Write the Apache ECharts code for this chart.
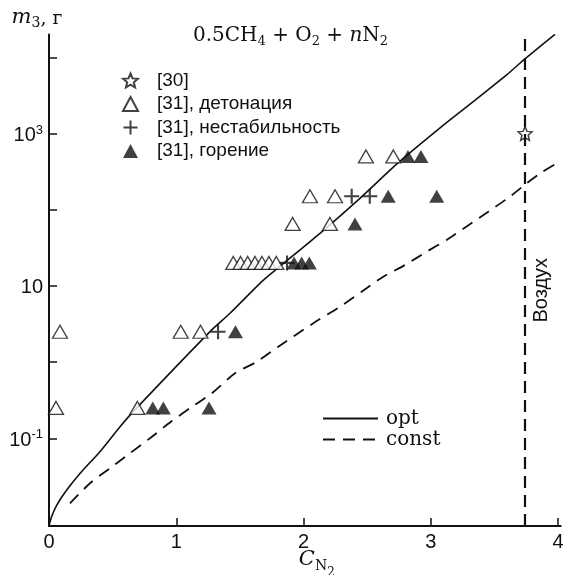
<!DOCTYPE html>
<html><head><meta charset="utf-8">
<script src="https://cdn.jsdelivr.net/npm/echarts@6/dist/echarts.min.js"></script>
<style>html,body{margin:0;padding:0;background:#fff}#c{width:563px;height:575px}</style>
</head><body><div id="c"></div>
<script>
// ---- data ----
const xTickValues = [0, 1, 2, 3, 4];
const yTickValues = [0.1, 1, 10, 100, 1000, 10000];
const yLabelValues = [0.1, 10, 1000];
const airX = 3.74;                       // "Воздух" (air)
const ref30 = [[3.74, 1000]];
const detonation = [[0.055,0.25],[0.694,0.25],[0.086,2.5],[1.035,2.5],[1.19,2.5],
  [1.448,20],[1.505,20],[1.561,20],[1.618,20],[1.673,20],[1.728,20],[1.786,20],
  [1.914,65],[2.207,65],[2.05,150],[2.247,150],[2.49,500],[2.705,500]];
const instability = [[1.328,2.5],[1.87,20],[2.378,150],[2.52,150]];
const combustion = [[0.815,0.25],[0.898,0.25],[1.257,0.25],[1.465,2.5],
  [1.925,20],[1.985,20],[2.045,20],[2.404,65],[2.665,150],[3.046,150],[2.82,500],[2.922,500]];
const optX = [0, 0.02, 0.06, 0.139, 0.25, 0.40, 0.558, 0.662, 1.265, 1.422, 1.657, 1.762, 2.129, 2.443, 2.74, 3.07, 3.333, 3.595, 3.73, 3.975];
const optM = [0.00706, 0.00933, 0.0132, 0.0209, 0.0355, 0.0667, 0.142, 0.224, 2.51, 4.37, 10.8, 15.3, 49.0, 141, 407, 1175, 2612, 5861, 9226, 19953];
const constX = [0.165, 0.322, 0.479, 0.636, 0.793, 0.96, 1.12, 1.278, 1.461, 1.632, 1.801, 1.958, 2.115, 2.286, 2.456, 2.626, 2.797, 2.967, 3.124, 3.281, 3.451, 3.621, 3.74, 3.87, 4.0];
const constM = [0.0140, 0.0257, 0.0404, 0.0635, 0.100, 0.166, 0.257, 0.389, 0.713, 1.01, 1.59, 2.39, 3.56, 5.33, 8.39, 13.2, 18.8, 28.1, 40.1, 60.3, 94.2, 148, 214, 309, 417];
const xMin = 0, xMax = 4.02, yMin = 0.00706, yMax = 19953;

// ---- chart ----
const black = '#111';
const sans = '"Liberation Sans", Arial, sans-serif';
const serif = '"DejaVu Serif", serif';
const starPath = 'path://M10,0L12.645,6.36L19.51,6.91L14.28,11.39L15.88,18.09L10,14.5L4.12,18.09L5.72,11.39L0.49,6.91L7.355,6.36Z';
const plusPath = 'path://M6,0L8,0L8,6L14,6L14,8L8,8L8,14L6,14L6,8L0,8L0,6L6,6Z';
const zip = (xs, ys) => xs.map((x, i) => [x, ys[i]]);

const chart = echarts.init(document.getElementById('c'), null, {renderer: 'canvas'});
chart.setOption({
  animation: false,
  backgroundColor: '#fff',
  title: {
    text: '{a|0.5CH}{s|4}{a| + O}{s|2}{a| + }{i|n}{a|N}{s|2}',
    left: 193, top: 26, padding: 0,
    textStyle: {fontWeight: 'normal', rich: {
      a: {fontFamily: serif, fontSize: 20, lineHeight: 20, fontWeight: 'normal', color: black, verticalAlign: 'top'},
      i: {fontFamily: serif, fontSize: 20, lineHeight: 20, fontWeight: 'normal', color: black, fontStyle: 'italic', verticalAlign: 'top'},
      s: {fontFamily: serif, fontSize: 13, lineHeight: 13, fontWeight: 'normal', color: black, padding: [9, 0, 0, 0], verticalAlign: 'top'}
    }}
  },
  grid: {left: 49, right: 2.3, top: 34.4, bottom: 49, containLabel: false, outerBoundsMode: 'none'},
  legend: [{
    data: ['[30]', '[31], детонация', '[31], нестабильность', '[31], горение'],
    orient: 'vertical', left: 122, top: 71, padding: 0,
    itemWidth: 15, itemHeight: 14, itemGap: 4.5, selectedMode: false,
    textStyle: {fontFamily: sans, fontSize: 19, color: black, lineHeight: 14, padding: [0, 0, 0, 14]}
  }, {
    data: ['opt', 'const'],
    orient: 'vertical', left: 322, top: 408.4, padding: 0,
    itemWidth: 55, itemHeight: 14, itemGap: 1, selectedMode: false,
    itemStyle: {opacity: 0},
    textStyle: {fontFamily: serif, fontSize: 20, color: black, lineHeight: 14, padding: [0, 0, 0, 3]}
  }],
  xAxis: {
    type: 'value', min: xMin, max: xMax,
    name: '{c|C}{n|N}{t|2}', nameLocation: 'middle', nameGap: 23, nameMoveOverlap: false,
    nameTextStyle: {padding: [0, 0, 0, 24], verticalAlign: 'top', rich: {
      c: {fontFamily: serif, fontSize: 21, lineHeight: 21, color: black, fontStyle: 'italic', verticalAlign: 'top'},
      n: {fontFamily: serif, fontSize: 14, lineHeight: 14, color: black, padding: [10, 0, 0, 0], verticalAlign: 'top'},
      t: {fontFamily: serif, fontSize: 12, lineHeight: 12, color: black, padding: [18, 0, 0, 0], verticalAlign: 'top'}
    }},
    axisLine: {show: true, onZero: false, lineStyle: {color: black, width: 2}},
    axisTick: {show: true, inside: true, length: 8, customValues: xTickValues, lineStyle: {color: black, width: 1.5}},
    axisLabel: {customValues: xTickValues, fontFamily: sans, fontSize: 20, color: black, margin: 6},
    splitLine: {show: false}
  },
  yAxis: {
    type: 'log', logBase: 10, min: yMin, max: yMax,
    name: '{m|m}{s|3}{a|, г}', nameLocation: 'end', nameGap: 6, nameMoveOverlap: false,
    nameTextStyle: {padding: [0, 24, 0, 0], rich: {
      m: {fontFamily: serif, fontSize: 21, lineHeight: 21, color: black, fontStyle: 'italic', verticalAlign: 'top'},
      s: {fontFamily: serif, fontSize: 14, lineHeight: 14, color: black, padding: [9, 0, 0, 0], verticalAlign: 'top'},
      a: {fontFamily: serif, fontSize: 19, lineHeight: 19, color: black, padding: [2, 0, 0, 0], verticalAlign: 'top'}
    }},
    axisLine: {show: true, onZero: false, lineStyle: {color: black, width: 2}},
    axisTick: {show: true, inside: true, length: 8, customValues: yTickValues, lineStyle: {color: black, width: 1.5}},
    axisLabel: {
      customValues: yLabelValues, margin: 6,
      formatter: v => {
        const e = Math.round(Math.log10(v));
        return e === 1 ? '{b|10}' : '{b|10}{s|' + e + '}';
      },
      rich: {
        b: {fontFamily: sans, fontSize: 20, lineHeight: 20, color: black, padding: [2, 0, 0, 0], verticalAlign: 'top'},
        s: {fontFamily: sans, fontSize: 13, lineHeight: 13, color: black, verticalAlign: 'top'}
      }
    },
    splitLine: {show: false}
  },
  series: [{
    name: 'opt', type: 'line', data: zip(optX, optM), symbol: 'none', showSymbol: false,
    smooth: 0.25, z: 2, lineStyle: {color: black, width: 1.6}, itemStyle: {color: black}
  }, {
    name: 'const', type: 'line', data: zip(constX, constM), symbol: 'none', showSymbol: false,
    smooth: 0.25, z: 2, lineStyle: {color: black, width: 1.8, type: [12, 8]}, itemStyle: {color: black}
  }, {
    name: '[30]', type: 'scatter', data: ref30, symbol: starPath, symbolSize: 14, z: 4,
    itemStyle: {color: '#fff', borderColor: black, borderWidth: 1.5},
    markLine: {
      silent: true, symbol: 'none', animation: false,
      data: [{xAxis: airX}],
      lineStyle: {color: black, width: 2.2, type: [12, 7]},
      label: {show: true, formatter: 'Воздух', position: 'insideMiddleBottom', distance: 6,
        fontFamily: sans, fontSize: 20, color: black, padding: [0, 20, 0, 0]}
    }
  }, {
    name: '[31], детонация', type: 'scatter', data: detonation, symbol: 'triangle', symbolSize: [15, 13], z: 4,
    itemStyle: {color: '#fff', borderColor: black, borderWidth: 1.3}
  }, {
    name: '[31], нестабильность', type: 'scatter', data: instability, symbol: plusPath, symbolSize: 15, z: 4,
    itemStyle: {color: black}
  }, {
    name: '[31], горение', type: 'scatter', data: combustion, symbol: 'triangle', symbolSize: [15, 13], z: 4,
    itemStyle: {color: black}
  }]
});
</script>
</body></html>
